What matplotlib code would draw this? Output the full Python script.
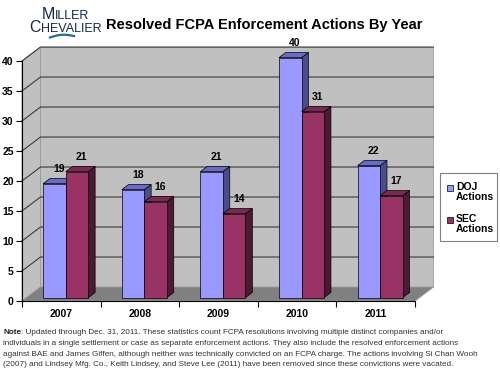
import matplotlib.pyplot as plt
import numpy as np
from matplotlib.patches import Polygon, Rectangle

years = ['2007', '2008', '2009', '2010', '2011']
doj = [19, 18, 21, 40, 22]
sec = [21, 16, 14, 31, 17]
series_names = ['DOJ\nActions', 'SEC\nActions']
yticks = [0, 5, 10, 15, 20, 25, 30, 35, 40]

note_lines = [
    ': Updated through Dec. 31, 2011. These statistics count FCPA resolutions involving multiple distinct companies and/or',
    'individuals in a single settlement or case as separate enforcement actions. They also include the resolved enforcement actions',
    'against BAE and James Giffen, although neither was technically convicted on an FCPA charge. The actions involving Si Chan Wooh',
    '(2007) and Lindsey Mfg. Co., Keith Lindsey, and Steve Lee (2011) have been removed since these convictions were vacated.',
]

plt.rcParams['font.family'] = ['Liberation Sans', 'DejaVu Sans']

W, H = 500, 372
fig = plt.figure(figsize=(W / 100, H / 100), dpi=100)
ax = fig.add_axes([22 / W, 1 - 301 / H, (415 - 22) / W, (301 - 61) / H])
n = len(years)
ymax = 40
ax.set_xlim(0, n)
ax.set_ylim(0, ymax)

# depth of the 3d box in data units
DX, DY = 0.235, 2.33
wall = '#c0c0c0'
grid_c = '#3a3a3a'

# side wall, back wall, floor
ax.add_patch(Polygon([(0, 0), (DX, DY), (DX, ymax + DY), (0, ymax)],
                     closed=True, fc=wall, ec='#9a9a9a', lw=0.6, clip_on=False, zorder=0))
ax.add_patch(Polygon([(DX, DY), (n + DX, DY), (n + DX, ymax + DY), (DX, ymax + DY)],
                     closed=True, fc=wall, ec='#9a9a9a', lw=0.6, clip_on=False, zorder=0))
ax.add_patch(Polygon([(0, 0), (DX, DY), (n + DX, DY), (n, 0)],
                     closed=True, fc='#808080', ec='#9a9a9a', lw=0.6, clip_on=False, zorder=1))

for v in yticks[1:]:
    ax.plot([0, DX, n + DX], [v, v + DY, v + DY], color=grid_c, lw=0.8,
            clip_on=False, zorder=1)

# bars
w = 0.287
f0, f1 = 0.24, 0.61
ox, oy = f0 * DX, f0 * DY
ddx, ddy = (f1 - f0) * DX, (f1 - f0) * DY
styles = [('#9999ff', '#6a6acc', '#4c4c8c'), ('#993366', '#7a2952', '#4d1933')]

for i in range(n):
    c = i + 0.5 + ox
    for k, vals in enumerate([doj, sec]):
        v = vals[i]
        x0 = c - w + k * w
        x1 = x0 + w
        b, t = oy, oy + v
        front, top, side = styles[k]
        ax.add_patch(Polygon([(x1, b), (x1 + ddx, b + ddy), (x1 + ddx, t + ddy), (x1, t)],
                             closed=True, fc=side, ec='black', lw=0.5, clip_on=False, zorder=3))
        ax.add_patch(Polygon([(x0, t), (x0 + ddx, t + ddy), (x1 + ddx, t + ddy), (x1, t)],
                             closed=True, fc=top, ec='black', lw=0.5, clip_on=False, zorder=3))
        ax.add_patch(Polygon([(x0, b), (x1, b), (x1, t), (x0, t)],
                             closed=True, fc=front, ec='black', lw=0.5, clip_on=False, zorder=3))
        ax.annotate(str(v), ((x0 + x1) / 2 + 0.06, t + ddy), xytext=(0, 3),
                    textcoords='offset points', ha='center', va='bottom',
                    fontsize=7.5, fontweight='bold', annotation_clip=False, zorder=4)

# axes lines and ticks
for s in ['top', 'right']:
    ax.spines[s].set_visible(False)
ax.spines['left'].set_linewidth(0.8)
ax.spines['bottom'].set_linewidth(0.8)
ax.patch.set_visible(False)
ax.set_yticks(yticks)
ax.set_yticklabels([str(v) for v in yticks], fontsize=7.5, fontweight='bold')
ax.tick_params(axis='y', length=4, width=0.8, pad=2)
ax.set_xticks(np.arange(n) + 0.5)
ax.set_xticklabels(years, fontsize=7.5, fontweight='bold')
ax.set_xticks(np.arange(n + 1), minor=True)
ax.tick_params(axis='x', which='major', length=0, pad=6)
ax.tick_params(axis='x', which='minor', length=4, width=0.8)

# legend box, drawn by hand so the markers sit beside the first line
fig.add_artist(Rectangle((440 / W, 1 - 241 / H), 57 / W, 68 / H, transform=fig.transFigure,
                         fc='white', ec='#808080', lw=0.8))
for k, (name, ytop) in enumerate(zip(series_names, [185, 217])):
    fig.add_artist(Rectangle((447 / W, 1 - (ytop + 6) / H), 6 / W, 6 / H,
                             transform=fig.transFigure, fc=styles[k][0], ec='black', lw=0.5))
    fig.text(456 / W, 1 - (ytop - 3) / H, name, fontsize=7.5, fontweight='bold',
             va='top', ha='left', linespacing=1.05)

# title
fig.text(264 / W, 1 - 25 / H, 'Resolved FCPA Enforcement Actions By Year', ha='center',
         va='center', fontsize=10.5, fontweight='bold')

# logo
navy = '#14284b'
def small_caps(x, y, word, big=11.5, small=9):
    t = fig.text(x, y, word[0], fontsize=big, color=navy, va='baseline', ha='left')
    ax.annotate(word[1:], xy=(1, 0), xycoords=t, va='bottom', ha='left',
                fontsize=small, color=navy, annotation_clip=False)

small_caps(42 / W, 1 - 19 / H, 'MILLER')
small_caps(29 / W, 1 - 32 / H, 'CHEVALIER')
sx = np.linspace(50, 74, 30)
sy = 37.5 - 2.0 * np.sin((sx - 50) / 24 * np.pi) - (sx - 50) * 0.06
fig.add_artist(plt.Line2D(sx / W, 1 - sy / H, color='#1f6e8c', lw=1.6,
                          transform=fig.transFigure))

# note
ny = [333, 343.5, 354, 364.5]
nt = fig.text(3 / W, 1 - ny[0] / H, 'Note', fontsize=5.85, fontweight='bold',
              va='center', ha='left', color='#222222')
ax.annotate(note_lines[0], xy=(1, 0.5), xycoords=nt, va='center', ha='left',
            fontsize=5.85, color='#333333', annotation_clip=False)
for yy, line in zip(ny[1:], note_lines[1:]):
    fig.text(3 / W, 1 - yy / H, line, fontsize=5.85, va='center', ha='left', color='#333333')

fig.savefig('out.png', dpi=100)
